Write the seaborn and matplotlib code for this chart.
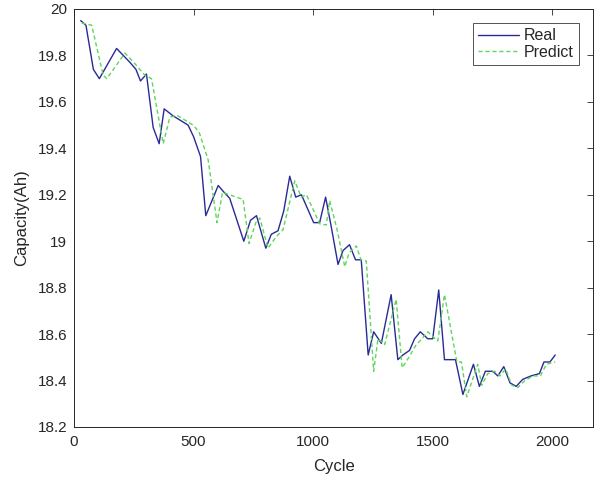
import numpy as np
import pandas as pd
import matplotlib
matplotlib.use("Agg")
import matplotlib.pyplot as plt
import seaborn as sns

real_cycle = [28, 50, 81, 106, 178, 234, 259, 278, 303, 331, 356, 377, 414, 477, 500,
              529, 551, 603, 628, 651, 710, 738, 763, 802, 825, 853, 877, 902, 927, 951,
              1002, 1027, 1052, 1076, 1104, 1125, 1152, 1177, 1201, 1230, 1253, 1285,
              1326, 1354, 1375, 1403, 1424, 1448, 1479, 1500, 1525, 1549, 1595, 1626,
              1670, 1695, 1720, 1751, 1772, 1797, 1823, 1849, 1876, 1911, 1946, 1965,
              1990, 2012]
real_cap = [19.95, 19.93, 19.74, 19.70, 19.83, 19.77, 19.74, 19.69, 19.72, 19.49, 19.42,
            19.57, 19.54, 19.50, 19.45, 19.365, 19.11, 19.24, 19.21, 19.185, 19.00, 19.09,
            19.11, 18.97, 19.03, 19.045, 19.13, 19.28, 19.19, 19.20, 19.08, 19.08, 19.19,
            19.06, 18.90, 18.96, 18.985, 18.92, 18.92, 18.51, 18.61, 18.56, 18.77, 18.49,
            18.51, 18.53, 18.58, 18.61, 18.58, 18.58, 18.79, 18.49, 18.49, 18.34, 18.47,
            18.375, 18.44, 18.44, 18.42, 18.46, 18.39, 18.375, 18.405, 18.42, 18.43,
            18.48, 18.48, 18.51]

pred_cycle = [32, 74, 122, 137, 213, 250, 296, 324, 373, 401, 435, 498, 523, 561, 598,
              621, 650, 707, 732, 760, 777, 811, 846, 874, 923, 950, 972, 1027, 1055,
              1069, 1100, 1132, 1150, 1180, 1200, 1222, 1253, 1271, 1299, 1347, 1372,
              1400, 1431, 1455, 1479, 1521, 1549, 1601, 1620, 1642, 1688, 1705, 1730,
              1760, 1780, 1805, 1830, 1856, 1885, 1920, 1950, 1975, 2012]
pred_cap = [19.94, 19.93, 19.715, 19.70, 19.81, 19.77, 19.715, 19.70, 19.42, 19.535,
            19.54, 19.50, 19.47, 19.35, 19.08, 19.21, 19.20, 19.18, 18.99, 19.08, 19.10,
            18.97, 19.02, 19.05, 19.26, 19.19, 19.20, 19.075, 19.07, 19.175, 19.05, 18.89,
            18.95, 18.98, 18.92, 18.915, 18.44, 18.58, 18.555, 18.75, 18.455, 18.50,
            18.555, 18.58, 18.61, 18.57, 18.77, 18.48, 18.48, 18.33, 18.47, 18.38, 18.43,
            18.44, 18.42, 18.45, 18.38, 18.37, 18.40, 18.42, 18.42, 18.47, 18.48]

x_ticks = [0, 500, 1000, 1500, 2000]
y_ticks = [18.2, 18.4, 18.6, 18.8, 19.0, 19.2, 19.4, 19.6, 19.8, 20.0]
y_labels = ["18.2", "18.4", "18.6", "18.8", "19", "19.2", "19.4", "19.6", "19.8", "20"]

sns.set_style("white")
plt.rcParams["font.family"] = ["Liberation Sans", "DejaVu Sans"]

df_real = pd.DataFrame({"Cycle": real_cycle, "Capacity": real_cap})
df_pred = pd.DataFrame({"Cycle": pred_cycle, "Capacity": pred_cap})

fig = plt.figure(figsize=(5.94, 4.80), dpi=100)
ax = fig.add_axes([74 / 594, 1 - 427 / 480, (593 - 74) / 594, (427 - 9) / 480])

sns.lineplot(data=df_real, x="Cycle", y="Capacity", ax=ax, color="#2a2a96",
             linewidth=1.0, label="Real", sort=False, estimator=None)
sns.lineplot(data=df_pred, x="Cycle", y="Capacity", ax=ax, color="#5cd65c",
             linewidth=1.0, linestyle=(0, (3, 2)), label="Predict", sort=False,
             estimator=None)

ax.set_xlim(0, 2170)
ax.set_ylim(18.2, 20.0)
ax.set_xticks(x_ticks)
ax.set_xticklabels([str(t) for t in x_ticks])
ax.set_yticks(y_ticks)
ax.set_yticklabels(y_labels)
ax.tick_params(direction="in", length=4, width=0.6, colors="#262626",
               labelsize=11, top=True, right=True)
ax.tick_params(axis="x", pad=6)
ax.tick_params(axis="y", pad=5)
for sp in ax.spines.values():
    sp.set_color("#262626")
    sp.set_linewidth(0.7)
ax.set_xlabel("Cycle", fontsize=12, color="#262626", labelpad=7)
ax.set_ylabel("Capacity(Ah)", fontsize=12, color="#262626", labelpad=6)

leg = ax.legend(loc="upper right", fontsize=11.5, frameon=True, fancybox=False,
                handlelength=2.6, borderpad=0.3, labelspacing=0.1,
                handletextpad=0.3, borderaxespad=0.9)
leg.get_frame().set_edgecolor("#262626")
leg.get_frame().set_linewidth(0.7)
for t in leg.get_texts():
    t.set_color("#262626")

fig.savefig("out.png", dpi=100)
